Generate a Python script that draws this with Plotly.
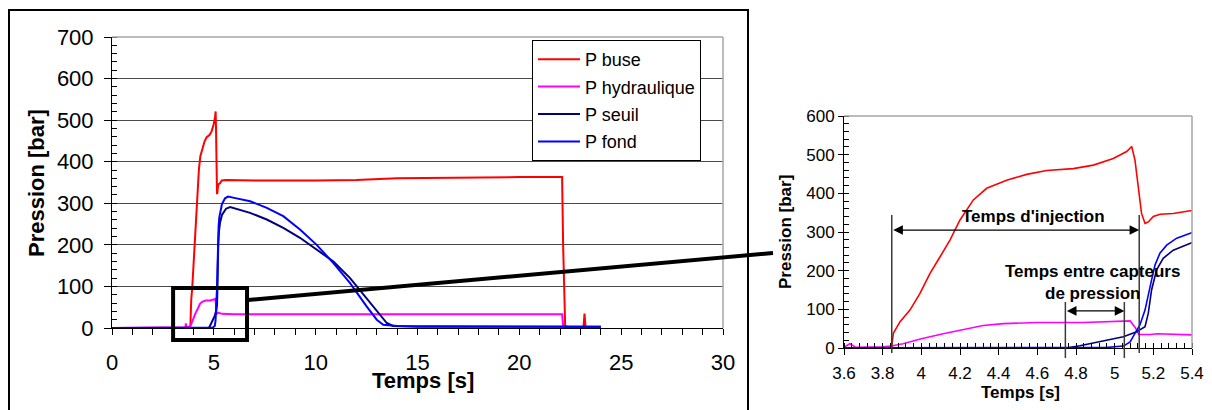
import plotly.graph_objects as go

# ---------------- data ----------------
t_buse = [0, 3.6, 3.8, 3.84, 3.847, 3.855, 3.89, 3.941, 3.993, 4.045, 4.097, 4.148, 4.2, 4.269,
          4.338, 4.441, 4.545, 4.648, 4.786, 4.89, 4.993, 5.062, 5.088, 5.105, 5.122, 5.139,
          5.157, 5.174, 5.2, 5.235, 5.303, 5.39, 5.6, 7, 10, 12, 14, 17, 20, 22.1, 22.15,
          22.25, 22.4, 23.15, 23.2, 23.25, 24.0]
p_buse = [0, 0, 0, 0, 3, 38, 68, 98, 141, 193, 236, 279, 331, 383,
          413, 434, 449, 459, 464, 473, 490, 508, 521, 486, 417, 348,
          322, 326, 340, 346, 348, 355, 356, 355, 355, 356, 360, 362, 363, 363, 200,
          5, 2, 2, 35, 2, 0]

t_hydr = [0, 3.6, 3.63, 3.66, 3.8, 3.845, 3.905, 4.0, 4.113, 4.217, 4.32, 4.424, 4.597, 4.839,
          4.994, 5.08, 5.106, 5.124, 5.185, 5.22, 5.4, 6, 22.1, 22.15, 22.3, 24.0]
p_hydr = [0, 2, 11, 2, 3, 5, 11, 24, 37, 47, 58, 63, 66, 66,
          68, 70, 53, 35, 35, 37, 34, 33, 33, 5, 2, 0]

t_seuil = [0, 4.75, 4.82, 4.924, 5.045, 5.114, 5.157, 5.174, 5.191, 5.217, 5.251, 5.303, 5.398,
           5.6, 5.8, 6.78, 7.6, 8.41, 9.23, 10.05, 10.87, 11.69, 12.5, 13.16, 13.49, 13.8, 15, 24.0]
p_seuil = [0, 0, 6, 16, 29, 42, 55, 90, 150, 202, 232, 253, 272,
           287, 291, 277, 261, 241, 217, 188, 160, 120, 72, 32, 12, 5, 3, 3]

t_fond = [0, 4.9, 4.95, 5.045, 5.08, 5.105, 5.13, 5.157, 5.174, 5.191, 5.209, 5.234, 5.269, 5.321,
          5.398, 5.55, 5.7, 6.0, 6.78, 7.6, 8.41, 9.23, 10.05, 10.87, 11.69, 12.5, 13.0, 13.32,
          14, 16, 24.0]
p_fond = [0, 0, 1, 5, 16, 38, 59, 98, 133, 176, 215, 245, 266, 284,
          298, 312, 316, 313, 305, 289, 269, 237, 200, 156, 108, 52, 20, 8,
          5, 4, 3]

series_names = ["P buse", "P hydraulique", "P seuil", "P fond"]
series_colors = ["#FF0000", "#FF00FF", "#000080", "#0000FF"]
series_t = [t_buse, t_hydr, t_seuil, t_fond]
series_p = [p_buse, p_hydr, p_seuil, p_fond]

main_xticks = [0, 5, 10, 15, 20, 25, 30]
main_yticks = [0, 100, 200, 300, 400, 500, 600, 700]
zoom_xticks = [3.6, 3.8, 4.0, 4.2, 4.4, 4.6, 4.8, 5.0, 5.2, 5.4]
zoom_xlabels = ["3.6", "3.8", "4", "4.2", "4.4", "4.6", "4.8", "5", "5.2", "5.4"]
zoom_yticks = [0, 100, 200, 300, 400, 500, 600]

# annotation markers (time instants, s)
t_inj_start, t_inj_end = 3.847, 5.127
t_cap_start, t_cap_end = 4.745, 5.05

FONT = "Arial, 'Liberation Sans', sans-serif"

# ---------------- layout geometry (pixels) ----------------
W, H = 1212, 410
def px(x): return x / W
def py(y): return (H - y) / H

fig = go.Figure()

for name, col, tt, pp in zip(series_names, series_colors, series_t, series_p):
    fig.add_trace(go.Scatter(x=tt, y=pp, mode="lines", name=name, legendgroup=name,
                             line=dict(color=col, width=2), xaxis="x", yaxis="y"))
for name, col, tt, pp in zip(series_names, series_colors, series_t, series_p):
    fig.add_trace(go.Scatter(x=tt, y=pp, mode="lines", name=name, showlegend=False,
                             line=dict(color=col, width=1.6), xaxis="x2", yaxis="y2"))

axis_common = dict(showline=True, linecolor="black", linewidth=1, zeroline=False,
                   tickcolor="black", automargin=False)

fig.update_layout(
    width=W, height=H, margin=dict(l=0, r=0, t=0, b=0, pad=0, autoexpand=False),
    paper_bgcolor="white", plot_bgcolor="white",
    font=dict(family=FONT, color="black"),
    xaxis=dict(domain=[px(112), px(723)], range=[0, 30], tickvals=main_xticks,
               ticks="outside", ticklen=6, showgrid=False, anchor="y",
               tickfont=dict(size=22, family=FONT, color="black"), ticklabelstandoff=9,
               minor=dict(dtick=1, ticks="outside", ticklen=6, tickcolor="black", showgrid=False),
               **axis_common),
    yaxis=dict(domain=[py(328), py(37)], range=[0, 700], tickvals=main_yticks,
               ticks="outside", ticklen=7, showgrid=True, gridcolor="#4a4a4a", gridwidth=1,
               anchor="x", tickfont=dict(size=22, family=FONT, color="black"), ticklabelstandoff=6,
               minor=dict(dtick=20, ticks="inside", ticklen=5, tickcolor="black", showgrid=False),
               **axis_common),
    xaxis2=dict(domain=[px(844), px(1192)], range=[3.6, 5.4], tickvals=zoom_xticks,
                ticktext=zoom_xlabels, ticks="outside", ticklen=6, showgrid=False, anchor="y2",
                tickfont=dict(size=17, family=FONT, color="black"), ticklabelstandoff=4,
                minor=dict(dtick=0.04, ticks="inside", ticklen=5, tickcolor="black", showgrid=False),
                **axis_common),
    yaxis2=dict(domain=[py(348), py(116)], range=[0, 600], tickvals=zoom_yticks,
                ticks="outside", ticklen=5, showgrid=False, anchor="x2",
                tickfont=dict(size=17, family=FONT, color="black"), ticklabelstandoff=0,
                minor=dict(dtick=20, ticks="inside", ticklen=5, tickcolor="black", showgrid=False),
                **axis_common),
    legend=dict(x=px(532), y=py(40), xanchor="left", yanchor="top",
                bordercolor="black", borderwidth=1, bgcolor="white",
                font=dict(size=18, family=FONT, color="black"), itemwidth=42,
                traceorder="grouped", tracegroupgap=1),
)

shapes = []
# gray plot borders (top & right) for both charts
for xr, yr in (("x domain", "y domain"), ("x2 domain", "y2 domain")):
    shapes.append(dict(type="line", xref=xr, yref=yr, x0=0, x1=1, y0=1, y1=1,
                       line=dict(color="#a6a6a6", width=1.5), layer="above"))
    shapes.append(dict(type="line", xref=xr, yref=yr, x0=1, x1=1, y0=0, y1=1,
                       line=dict(color="#a6a6a6", width=1.5), layer="above"))
# outer frame of main chart
shapes.append(dict(type="rect", xref="paper", yref="paper", x0=px(9), x1=px(748),
                   y0=py(414), y1=py(10), line=dict(color="black", width=2)))
# zoom box on main chart (3.0 s - 6.63 s, -29 - 96 bar)
shapes.append(dict(type="rect", xref="x domain", yref="y domain", x0=3.0 / 30, x1=6.63 / 30,
                   y0=-29 / 700, y1=96 / 700, line=dict(color="black", width=4)))
# connector line
shapes.append(dict(type="line", xref="paper", yref="paper", x0=px(248), y0=py(300),
                   x1=px(773), y1=py(253), line=dict(color="black", width=4)))
# vertical marker lines on zoom chart
for tv, ytop, ybot in ((t_inj_start, 344, -13), (t_inj_end, 344, -13),
                       (t_cap_start, 119, -26), (t_cap_end, 119, -26)):
    shapes.append(dict(type="line", xref="x2 domain", yref="y2 domain",
                       x0=(tv - 3.6) / 1.8, x1=(tv - 3.6) / 1.8, y0=ybot / 600, y1=ytop / 600,
                       line=dict(color="#3a3a3a", width=1.5)))
fig.update_layout(shapes=shapes)

ann = []
# axis titles
ann.append(dict(text="<b>Pression [bar]</b>", xref="paper", yref="paper", x=px(37), y=py(183),
                textangle=-90, showarrow=False, font=dict(size=22), xanchor="center", yanchor="middle"))
ann.append(dict(text="<b>Temps [s]</b>", xref="paper", yref="paper", x=px(423), y=py(380),
                showarrow=False, font=dict(size=22), xanchor="center", yanchor="middle"))
ann.append(dict(text="<b>Pression [bar]</b>", xref="paper", yref="paper", x=px(785), y=py(232),
                textangle=-90, showarrow=False, font=dict(size=17), xanchor="center", yanchor="middle"))
ann.append(dict(text="<b>Temps [s]</b>", xref="paper", yref="paper", x=px(1020), y=py(392),
                showarrow=False, font=dict(size=17), xanchor="center", yanchor="middle"))
# double arrows
for a, b, yv in ((t_inj_start, t_inj_end, 305), (t_cap_start, t_cap_end, 96)):
    ann.append(dict(text="", xref="x2", yref="y2", x=b, y=yv, axref="x2", ayref="y2", ax=a, ay=yv,
                    showarrow=True, arrowside="end+start", arrowhead=2, startarrowhead=2,
                    arrowsize=1.6, startarrowsize=1.6, arrowwidth=1.2, arrowcolor="black",
                    standoff=0, startstandoff=0))
ann.append(dict(text="<b>Temps d'injection</b>", xref="x2", yref="y2", x=4.578, y=339,
                showarrow=False, font=dict(size=17), xanchor="center", yanchor="middle"))
ann.append(dict(text="<b>Temps entre capteurs<br>de pression</b>", xref="x2", yref="y2", x=4.883,
                y=170, showarrow=False, font=dict(size=17), xanchor="center", yanchor="middle"))
fig.update_layout(annotations=ann)

fig.write_html("out.html", config={"displayModeBar": False},
               post_script="document.body.style.margin='0';document.body.style.padding='0';")
